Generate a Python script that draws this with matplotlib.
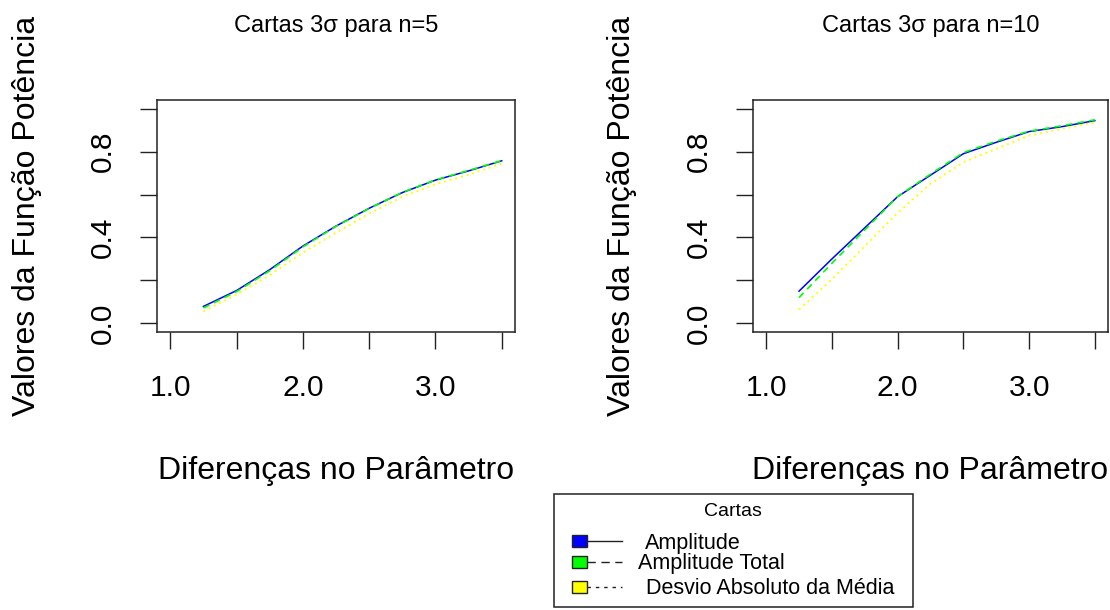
import matplotlib
matplotlib.use("Agg")
import matplotlib.pyplot as plt
from matplotlib.patches import Rectangle

plt.rcParams['font.family'] = ['Liberation Sans', 'DejaVu Sans']

# diferencas no parametro
x = [1.25, 1.5, 1.75, 2.0, 2.25, 2.5, 2.75, 3.0, 3.25, 3.5]

# n = 5
amp5 = [0.079, 0.153, 0.250, 0.360, 0.453, 0.536, 0.609, 0.667, 0.710, 0.757]
tot5 = [0.072, 0.148, 0.245, 0.356, 0.452, 0.535, 0.610, 0.668, 0.712, 0.758]
dam5 = [0.056, 0.134, 0.224, 0.329, 0.422, 0.511, 0.589, 0.648, 0.692, 0.744]

# n = 10
amp10 = [0.150, 0.300, 0.445, 0.590, 0.690, 0.790, 0.843, 0.893, 0.916, 0.944]
tot10 = [0.120, 0.280, 0.435, 0.590, 0.695, 0.795, 0.848, 0.895, 0.920, 0.948]
dam10 = [0.065, 0.205, 0.360, 0.515, 0.650, 0.750, 0.813, 0.874, 0.906, 0.936]

titles = ["Cartas 3σ para n=5", "Cartas 3σ para n=10"]
nomes = ["Amplitude", "Amplitude Total", "Desvio Absoluto da Média"]
cores = ["#0000FF", "#00FF00", "#FFFF00"]
estilos = ["-", (0, (4, 3)), (0, (1, 2))]
estilos_leg = ["-", (0, (6, 4)), (0, (2.5, 3.5))]
larguras = [1.1, 1.2, 1.4]

xticks = [1.0, 1.5, 2.0, 2.5, 3.0, 3.5]
xticklabels = ["1.0", "", "2.0", "", "3.0", ""]
yticks = [0.0, 0.2, 0.4, 0.6, 0.8, 1.0]
yticklabels = ["0.0", "", "0.4", "", "0.8", ""]

W, H = 1110, 610
fig = plt.figure(figsize=(W / 100, H / 100), dpi=100)

def px(x0, y0, x1, y1):
    return [x0 / W, 1 - y1 / H, (x1 - x0) / W, (y1 - y0) / H]

boxes = [(157, 100, 515, 332), (753, 100, 1108, 332)]
series = [(amp5, tot5, dam5), (amp10, tot10, dam10)]
ylab_x = [27, 622]

for k in range(2):
    b = boxes[k]
    ax = fig.add_axes(px(*b))
    for ys, c, ls, lw in zip(series[k], cores, estilos, larguras):
        ax.plot(x, ys, color=c, linestyle=ls, linewidth=lw)
    ax.set_xlim(0.9, 3.6)
    ax.set_ylim(-0.04, 1.04)
    ax.set_xticks(xticks)
    ax.set_xticklabels(xticklabels)
    ax.set_yticks(yticks)
    ax.set_yticklabels(yticklabels, rotation=90, va='center')
    ax.tick_params(axis='both', length=12.2, width=1.0, labelsize=21.5, color='#222222')
    ax.tick_params(axis='x', pad=18)
    ax.tick_params(axis='y', pad=17)
    for s in ax.spines.values():
        s.set_linewidth(1.1)
        s.set_color('#222222')
    cx = (b[0] + b[2]) / 2
    fig.text(cx / W, 1 - 32 / H, titles[k], ha='center', va='baseline', fontsize=17)
    fig.text(cx / W, 1 - 479 / H, "Diferenças no Parâmetro", ha='center', va='baseline', fontsize=23)
    fig.text(ylab_x[k] / W, 1 - 216 / H, "Valores da Função Potência", rotation=90,
             ha='center', va='center', fontsize=23)

# legenda
lg = fig.add_axes([0, 0, 1, 1])
lg.set_xlim(0, W)
lg.set_ylim(H, 0)
lg.axis('off')
lg.add_patch(Rectangle((554, 494), 359, 113, fill=False, edgecolor='#222222', linewidth=1.1))
lg.text(733, 512, "Cartas", ha='center', va='center', fontsize=14)
row_y = [541, 562, 587]
text_x = [645, 638, 646]
text_y = [543, 563, 589]
for i in range(3):
    lg.add_patch(Rectangle((572, row_y[i] - 6), 15, 12, facecolor=cores[i],
                           edgecolor='#222222', linewidth=1.0))
    lg.plot([587, 622], [row_y[i], row_y[i]], color='#222222', linestyle=estilos_leg[i], linewidth=1.0)
    lg.text(text_x[i], text_y[i], nomes[i], ha='left', va='center', fontsize=15.5)

fig.savefig("out.png", dpi=100)
